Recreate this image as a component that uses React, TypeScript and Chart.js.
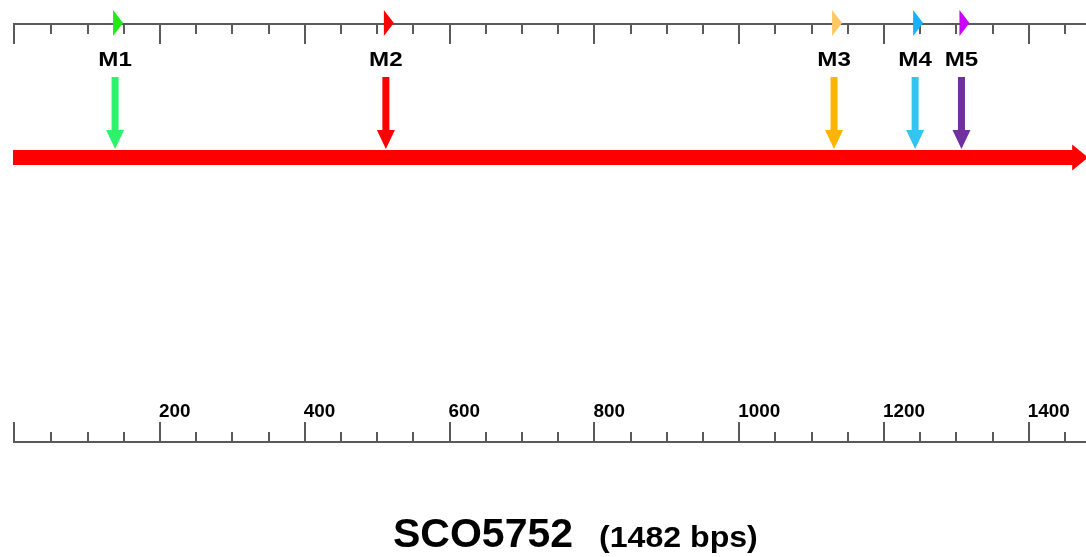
import { useEffect, useRef } from 'react';
import { Chart, registerables } from 'chart.js';

Chart.register(...registerables);

// ---- data ----
const geneName = 'SCO5752';
const geneLength = 1482;
const geneColor = '#ff0000';

const markerLabels = ['M1', 'M2', 'M3', 'M4', 'M5'];
const markerPositions = [138, 512, 1131, 1243, 1307];
const markerFlagColors = ['#22e81e', '#ff0000', '#ffc864', '#18b0ff', '#cc00ff'];
const markerArrowColors = ['#2ef26a', '#ff0000', '#ffb400', '#33c4f0', '#7030a0'];

const majorTicks = [0, 200, 400, 600, 800, 1000, 1200, 1400];
const minorTicks = [
  50, 100, 150, 250, 300, 350, 450, 500, 550, 650, 700, 750, 850, 900, 950,
  1050, 1100, 1150, 1250, 1300, 1350, 1450,
];
const tickLabelValues = [200, 400, 600, 800, 1000, 1200, 1400];
const tickLabels = ['200', '400', '600', '800', '1000', '1200', '1400'];

// ---- layout (pixels / view window) ----
const VIEW_MIN = -3;
const VIEW_MAX = 1479;
const W = 1086;
const H = 557;
const FONT = '"Liberation Sans", Arial, Helvetica, sans-serif';

function drawText(
  ctx: CanvasRenderingContext2D,
  text: string,
  x: number,
  y: number,
  size: number,
  sx: number,
  align: 'left' | 'center'
) {
  ctx.save();
  ctx.font = `bold ${size}px ${FONT}`;
  ctx.textAlign = 'left';
  ctx.textBaseline = 'alphabetic';
  const w = ctx.measureText(text).width * sx;
  const left = align === 'center' ? x - w / 2 : x;
  ctx.translate(left, y);
  ctx.scale(sx, 1);
  ctx.fillStyle = '#000';
  ctx.fillText(text, 0, 0);
  ctx.restore();
}

const geneMapPlugin = {
  id: 'geneMap',
  afterDraw(chart: any) {
    const ctx: CanvasRenderingContext2D = chart.ctx;
    const xs = chart.scales.x;
    const px = (v: number) => xs.getPixelForValue(v);
    const left = chart.chartArea.left;
    const right = chart.chartArea.right;
    ctx.save();

    // --- top ruler ---
    const topY = 24;
    ctx.strokeStyle = '#5a5a5a';
    ctx.lineWidth = 2;
    ctx.beginPath();
    ctx.moveTo(left, topY);
    ctx.lineTo(right, topY);
    ctx.stroke();
    ctx.beginPath();
    majorTicks.forEach((v) => {
      const x = Math.round(v === 0 ? left + 1 : px(v));
      ctx.moveTo(x, topY);
      ctx.lineTo(x, topY + 20);
    });
    minorTicks.forEach((v) => {
      const x = Math.round(px(v));
      ctx.moveTo(x, topY);
      ctx.lineTo(x, topY + 10);
    });
    ctx.stroke();

    // --- bottom ruler ---
    const botY = 442;
    ctx.beginPath();
    ctx.moveTo(left, botY);
    ctx.lineTo(right, botY);
    ctx.stroke();
    ctx.beginPath();
    majorTicks.forEach((v) => {
      const x = Math.round(v === 0 ? left + 1 : px(v));
      ctx.moveTo(x, botY);
      ctx.lineTo(x, botY - 20);
    });
    minorTicks.forEach((v) => {
      const x = Math.round(px(v));
      ctx.moveTo(x, botY);
      ctx.lineTo(x, botY - 10);
    });
    ctx.stroke();
    tickLabelValues.forEach((v, i) => {
      drawText(ctx, tickLabels[i], px(v) - 1, 417, 18, 1.05, 'left');
    });

    // --- gene arrow ---
    const gy = 157.5;
    const tipX = px(geneLength);
    const headLen = 16;
    ctx.fillStyle = geneColor;
    ctx.beginPath();
    ctx.moveTo(left, gy - 7.5);
    ctx.lineTo(tipX - headLen, gy - 7.5);
    ctx.lineTo(tipX - headLen, gy - 13);
    ctx.lineTo(tipX, gy);
    ctx.lineTo(tipX - headLen, gy + 13);
    ctx.lineTo(tipX - headLen, gy + 7.5);
    ctx.lineTo(left, gy + 7.5);
    ctx.closePath();
    ctx.fill();

    // --- markers ---
    markerPositions.forEach((v, i) => {
      const x = px(v);
      // arrow
      ctx.fillStyle = markerArrowColors[i];
      ctx.beginPath();
      ctx.moveTo(x - 3.5, 77);
      ctx.lineTo(x + 3.5, 77);
      ctx.lineTo(x + 3.5, 130);
      ctx.lineTo(x + 9, 130);
      ctx.lineTo(x, 149);
      ctx.lineTo(x - 9, 130);
      ctx.lineTo(x - 3.5, 130);
      ctx.closePath();
      ctx.fill();
      // flag triangle on top ruler
      ctx.fillStyle = markerFlagColors[i];
      ctx.beginPath();
      ctx.moveTo(x - 2, 10);
      ctx.lineTo(x + 8, 23);
      ctx.lineTo(x - 2, 36);
      ctx.closePath();
      ctx.fill();
      // label
      drawText(ctx, markerLabels[i], x, 66, 21, 1.15, 'center');
    });

    // --- title ---
    drawText(ctx, geneName, 393, 547, 41, 1.0, 'left');
    drawText(ctx, `(${geneLength} bps)`, 599, 547, 30, 1.07, 'left');

    ctx.restore();
  },
};

export default function App() {
  const ref = useRef<HTMLCanvasElement | null>(null);
  useEffect(() => {
    document.body.style.margin = '0';
    if (!ref.current) return;
    const chart = new Chart(ref.current, {
      type: 'scatter',
      data: {
        datasets: [
          {
            label: 'markers',
            data: markerPositions.map((p) => ({ x: p, y: 157 })),
            pointRadius: 0,
            showLine: false,
          },
        ],
      },
      options: {
        animation: false,
        responsive: false,
        devicePixelRatio: 1,
        layout: { padding: { left: 13, right: 0, top: 0, bottom: 0 } },
        plugins: { legend: { display: false }, tooltip: { enabled: false } },
        events: [],
        scales: {
          x: { type: 'linear', min: VIEW_MIN, max: VIEW_MAX, display: false },
          y: { type: 'linear', min: 0, max: H, reverse: true, display: false },
        },
      },
      plugins: [geneMapPlugin],
    });
    return () => chart.destroy();
  }, []);
  return (
    <div style={{ position: 'absolute', left: 0, top: 0, width: W, height: H, background: '#fff' }}>
      <canvas ref={ref} width={W} height={H} style={{ display: 'block' }} />
    </div>
  );
}
